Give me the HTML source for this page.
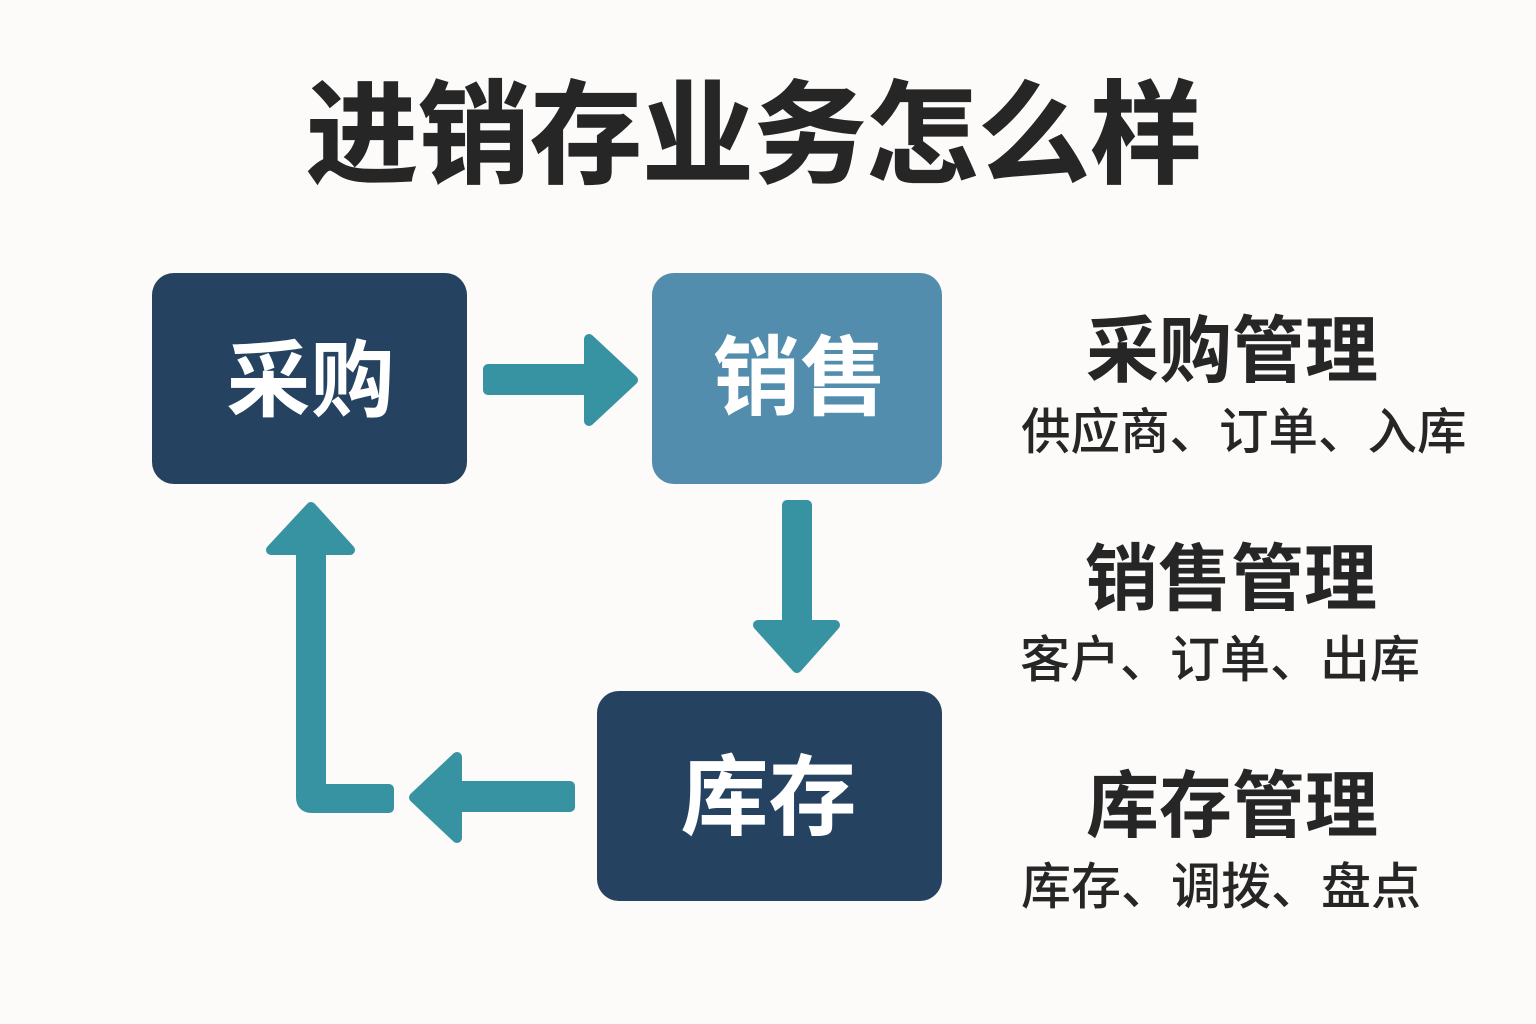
<!DOCTYPE html>
<html><head><meta charset="utf-8">
<style>
html,body{margin:0;padding:0;background:#fcfbf9}
#c{position:relative;width:1536px;height:1024px;overflow:hidden;background:#fcfbf9;font-family:"Liberation Sans","Noto Sans CJK SC",sans-serif}
.b{position:absolute;border-radius:22px;}
.t{position:absolute;white-space:nowrap;text-align:center;line-height:1;}
</style></head><body><div id="c">
<div class="t" style="left:254px;top:80px;width:1000px;font-size:112px;font-weight:700;color:#262626;-webkit-text-stroke:1.2px #262626">进销存业务怎么样</div>
<div class="b" style="left:152px;top:273px;width:315px;height:211px;background:#254361"></div>
<div class="b" style="left:652px;top:273px;width:290px;height:211px;background:#538dad"></div>
<div class="b" style="left:597px;top:691px;width:345px;height:210px;background:#254361"></div>
<div class="t" style="left:153px;top:339px;width:315px;font-size:84px;font-weight:700;color:#fff">采购</div>
<div class="t" style="left:652px;top:335px;width:290px;font-size:87px;font-weight:700;color:#fff;padding-left:3px">销售</div>
<div class="t" style="left:596px;top:754px;width:345px;font-size:88px;font-weight:700;color:#fff">库存</div>
<svg style="position:absolute;left:0;top:0" width="1536" height="1024">
<g fill="#3792a2" stroke="#3792a2" stroke-linejoin="round" stroke-width="10">
<path d="M488 369H589V339L633 380L589 421V390H488Z"/>
<path d="M787 505H807V625H835L797 668L758 625H787Z"/>
<path d="M570 786V807H457V838L414 797.5L457 757V786Z"/>
<path d="M321 550V789H389V808H312Q301 808 301 797V550H271L311 507L350 550Z"/>
</g></svg>
<div class="t" style="left:1032px;top:315px;width:400px;font-size:73px;font-weight:700;color:#262626">采购管理</div>
<div class="t" style="left:1021px;top:408px;width:400px;font-size:49.5px;font-weight:500;color:#262626">供应商、订单、入库</div>
<div class="t" style="left:1031px;top:543px;width:400px;font-size:73px;font-weight:700;color:#262626">销售管理</div>
<div class="t" style="left:1020px;top:635px;width:400px;font-size:50px;font-weight:500;color:#262626">客户、订单、出库</div>
<div class="t" style="left:1032px;top:770px;width:400px;font-size:73px;font-weight:700;color:#262626">库存管理</div>
<div class="t" style="left:1021px;top:862px;width:400px;font-size:50px;font-weight:500;color:#262626">库存、调拨、盘点</div>
</div></body></html>
